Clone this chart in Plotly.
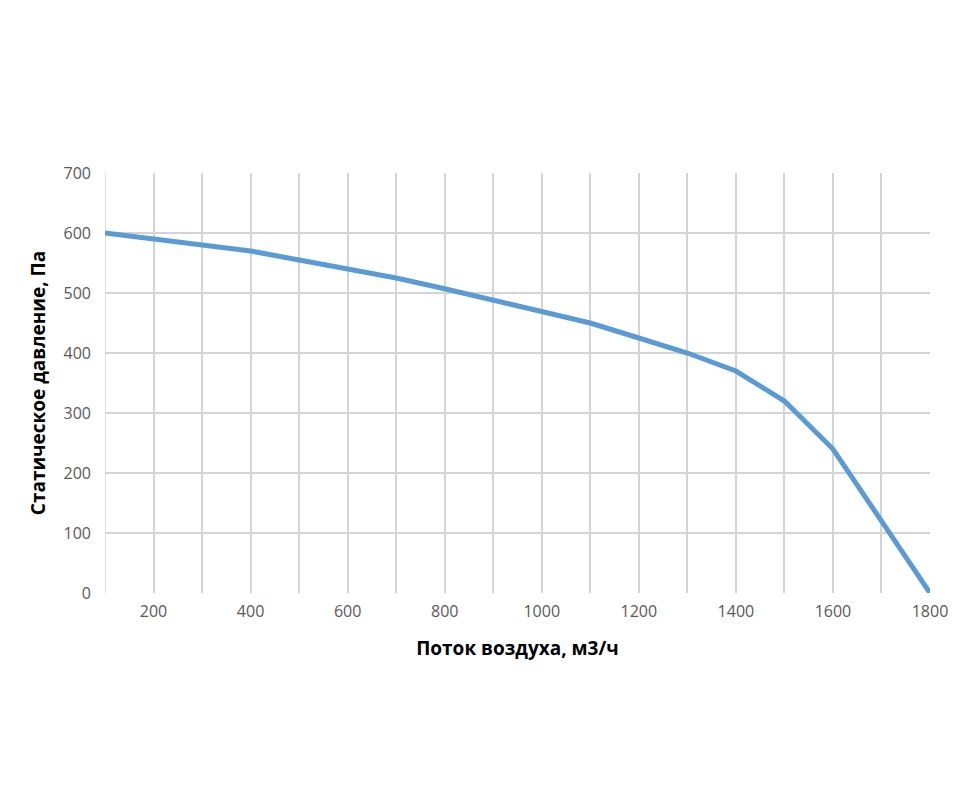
import plotly.graph_objects as go

flow = [100, 200, 300, 400, 500, 600, 700, 800, 900, 1000, 1100, 1200, 1300, 1400, 1500, 1600, 1700, 1800]
pressure = [600, 590, 580, 570, 555, 540, 525, 507, 488, 470, 450, 425, 400, 370, 320, 240, 120, 0]

fig = go.Figure()
fig.add_trace(go.Scatter(x=flow, y=pressure, mode="lines",
                         line=dict(color="#5B9BD5", width=5), showlegend=False,
                         cliponaxis=False))

grid = "#D4D4D4"
fig.update_layout(
    width=971, height=795,
    margin=dict(l=97, r=49, t=165, b=210),
    paper_bgcolor="white", plot_bgcolor="white",
    font=dict(family="Open Sans, Liberation Sans, sans-serif"),
    xaxis=dict(
        range=[100, 1800], tick0=0, dtick=200, showgrid=True, gridcolor=grid, gridwidth=1.5,
        minor=dict(dtick=100, tick0=0, showgrid=True, gridcolor=grid, gridwidth=1.5),
        zeroline=False, showline=False, ticks="",
        tickfont=dict(size=16, color="#595959"), ticklabelstandoff=7,
        title=dict(text="<b>Поток воздуха, м3/ч</b>", font=dict(size=19, color="black"), standoff=20),
    ),
    yaxis=dict(
        range=[0, 700], dtick=100, showgrid=True, gridcolor=grid, gridwidth=1.5,
        zeroline=False, showline=False, ticks="",
        tickfont=dict(size=16, color="#595959"), ticklabelstandoff=13,
        title=dict(text="<b>Статическое давление, Па</b>", font=dict(size=19, color="black"), standoff=12),
    ),
)
fig.add_shape(type="line", xref="x", yref="paper", x0=100, x1=100, y0=0, y1=1,
              line=dict(color=grid, width=1.5), layer="below")

fig.write_html("out.html")
